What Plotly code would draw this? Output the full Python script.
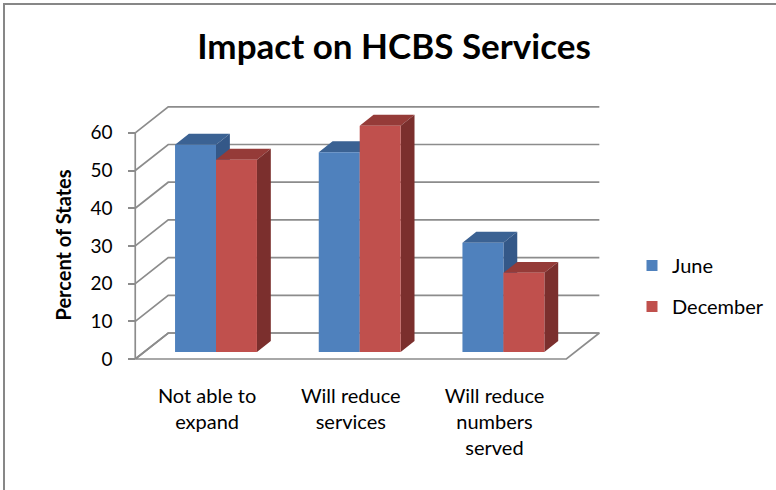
import plotly.graph_objects as go

# Survey results: share of states reporting each impact
categories = ["Not able to<br>expand", "Will reduce<br>services", "Will reduce<br>numbers<br>served"]
june = [55, 53, 29]
december = [51, 60, 21]
y_ticks = [0, 10, 20, 30, 40, 50, 60]

# --- oblique 3-D look -------------------------------------------------------
# data units: x = category index, y = percent; depth t shifts points up/right
DX, DY = 0.2296, 6.90          # shift for one full depth of the box
T_FRONT, T_BACK = -0.27, 0.73  # front plane and back wall depth
BAR_DEPTH = 0.42               # depth of each bar
BAR_W = 0.285                  # width of a bar in category units
FLOOR_L, FLOOR_R = -0.5, 2.5

BLUE = dict(front="#4F81BD", top="#3B6293", side="#345888")
RED = dict(front="#C0504D", top="#953B38", side="#7B2F2D")
GRID = "#8C8C8C"
FONT = "Lato"


def proj(x, v, t):
    return x + DX * t, v + DY * t


def poly(points):
    xs, ys = [], []
    for p in points:
        X, Y = proj(*p)
        xs.append(X)
        ys.append(Y)
    xs.append(xs[0])
    ys.append(ys[0])
    return xs, ys


def join(polys):
    xs, ys = [], []
    for px, py in polys:
        xs += px + [None]
        ys += py + [None]
    return xs, ys


fig = go.Figure()

# walls: gridlines on the side wall and the back wall
gx, gy = [], []
for v in y_ticks:
    for p in [(FLOOR_L, v, T_FRONT), (FLOOR_L, v, T_BACK), (FLOOR_R, v, T_BACK)]:
        X, Y = proj(*p)
        gx.append(X)
        gy.append(Y)
    gx.append(None)
    gy.append(None)
fig.add_trace(go.Scatter(x=gx, y=gy, mode="lines", line=dict(color=GRID, width=1.7),
                         hoverinfo="skip", showlegend=False))

# floor outline
fx, fy = poly([(FLOOR_L, 0, T_FRONT), (FLOOR_R, 0, T_FRONT), (FLOOR_R, 0, T_BACK),
               (FLOOR_L, 0, T_BACK)])
fig.add_trace(go.Scatter(x=fx, y=fy, mode="lines", line=dict(color=GRID, width=1.7),
                         hoverinfo="skip", showlegend=False))

# front value axis line, drawn on the left value axis
front_x = proj(FLOOR_L, 0, T_FRONT)[0]
fig.add_trace(go.Scatter(x=[front_x, front_x], y=[y_ticks[0], y_ticks[-1]], yaxis="y2",
                         mode="lines", line=dict(color=GRID, width=1.7),
                         hoverinfo="skip", showlegend=False))


def bar_faces(values, left_offset):
    tops, sides, fronts = [], [], []
    for i, v in enumerate(values):
        x0 = i + left_offset
        x1 = x0 + BAR_W
        tops.append(poly([(x0, v, 0), (x1, v, 0), (x1, v, BAR_DEPTH), (x0, v, BAR_DEPTH)]))
        sides.append(poly([(x1, 0, 0), (x1, v, 0), (x1, v, BAR_DEPTH), (x1, 0, BAR_DEPTH)]))
        fronts.append(poly([(x0, 0, 0), (x1, 0, 0), (x1, v, 0), (x0, v, 0)]))
    return join(tops), join(sides), join(fronts)


for name, vals, col, off in [("June", june, BLUE, -BAR_W), ("December", december, RED, 0.0)]:
    tops, sides, fronts = bar_faces(vals, off)
    for (xs, ys), c in [(tops, col["top"]), (sides, col["side"]), (fronts, col["front"])]:
        fig.add_trace(go.Scatter(x=xs, y=ys, mode="lines", fill="toself", fillcolor=c,
                                 line=dict(width=0, color=c), hoverinfo="skip",
                                 showlegend=False))
    fig.add_trace(go.Scatter(x=[None], y=[None], mode="markers", name=name,
                             legendgroup=name,
                             marker=dict(symbol="square", size=11, color=col["front"])))

# pixel geometry of the plot area
W, H = 776, 490
PX_PER_CAT, PX_PER_VAL = 143.7, 3.77
X0_PX, V0_PX = 216, 352
x_range = [-X0_PX / PX_PER_CAT, (W - X0_PX) / PX_PER_CAT]
y_range = [(V0_PX - H) / PX_PER_VAL, V0_PX / PX_PER_VAL]
front_shift = DY * T_FRONT

fig.update_layout(
    width=W, height=H,
    margin=dict(l=0, r=0, t=0, b=0),
    paper_bgcolor="white", plot_bgcolor="white",
    font=dict(family=FONT, size=20, color="#000000"),
    title=dict(text="<b>Impact on HCBS Services</b>", x=394 / W, xanchor="center",
               y=1 - 47 / H, yanchor="middle", font=dict(family=FONT, size=35)),
    xaxis=dict(range=x_range, domain=[0, 1], anchor="free",
               position=(H - 359) / H,
               tickvals=[i + DX * T_FRONT for i in range(len(categories))],
               ticktext=categories, ticks="", showgrid=False, zeroline=False,
               showline=False, ticklabelstandoff=23, tickfont=dict(size=20)),
    yaxis=dict(range=y_range, domain=[0, 1], visible=False),
    yaxis2=dict(range=[y_range[0] - front_shift, y_range[1] - front_shift],
                overlaying="y", anchor="free",
                position=(front_x - x_range[0]) / (x_range[1] - x_range[0]),
                tickvals=y_ticks, ticks="outside", ticklen=7, tickwidth=1.7,
                tickcolor=GRID, showgrid=False, zeroline=False, showline=False,
                ticklabelstandoff=12, tickfont=dict(size=19),
                title=dict(text="<b>Percent of States</b>", font=dict(size=20), standoff=12)),
    legend=dict(x=632 / W, xanchor="left", y=1 - 246 / H, yanchor="top",
                font=dict(size=20), tracegroupgap=12, bgcolor="rgba(0,0,0,0)"),
    showlegend=True,
    shapes=[dict(type="rect", xref="paper", yref="paper",
                 x0=4 / W, x1=1.02, y0=-0.02, y1=1 - 4 / H,
                 line=dict(color="#878787", width=2), fillcolor="rgba(0,0,0,0)")],
)

fig.write_html("out.html")
